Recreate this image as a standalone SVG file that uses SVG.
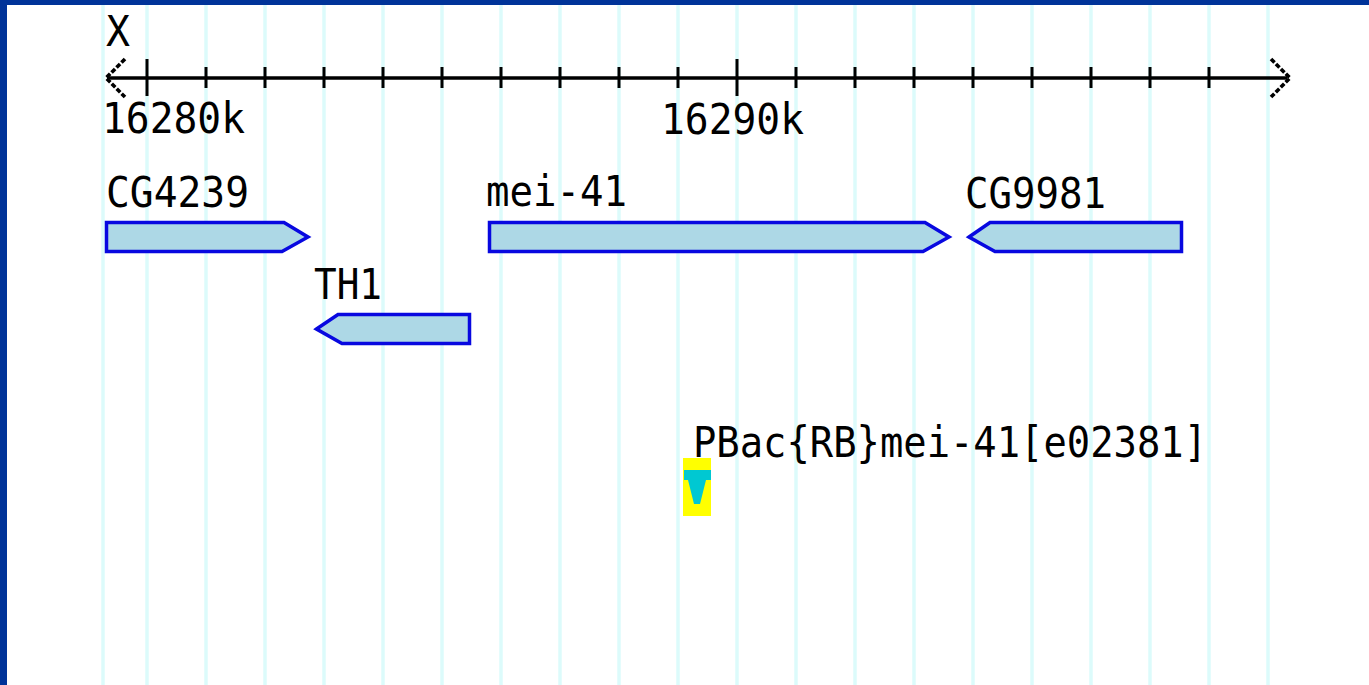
<svg xmlns="http://www.w3.org/2000/svg" width="1369" height="685" viewBox="0 0 1369 685">
  <style>
    .grid { stroke: #dcfbfb; stroke-width: 3.5; }
    .axis { stroke: #000; stroke-width: 3.5; fill: none; }
    .tick { stroke: #000; stroke-width: 3; }
    .chev { stroke: #000; stroke-width: 3.6; fill: none; stroke-dasharray: 5 2; stroke-linecap: butt; stroke-linejoin: miter; }
    .gene { fill: #add8e6; stroke: #0808e0; stroke-width: 3.5; stroke-linejoin: miter; }
    .lbl { font-family: "DejaVu Sans Mono", "Liberation Mono", monospace; font-size: 42px; fill: #000; }
  </style>
  <rect x="0" y="0" width="1369" height="685" fill="#fff"/>
  <g id="grid">
    <line class="grid" x1="103" y1="5" x2="103" y2="685"/>
    <line class="grid" x1="147" y1="5" x2="147" y2="685"/>
    <line class="grid" x1="206" y1="5" x2="206" y2="685"/>
    <line class="grid" x1="265" y1="5" x2="265" y2="685"/>
    <line class="grid" x1="324" y1="5" x2="324" y2="685"/>
    <line class="grid" x1="383" y1="5" x2="383" y2="685"/>
    <line class="grid" x1="442" y1="5" x2="442" y2="685"/>
    <line class="grid" x1="501" y1="5" x2="501" y2="685"/>
    <line class="grid" x1="560" y1="5" x2="560" y2="685"/>
    <line class="grid" x1="619" y1="5" x2="619" y2="685"/>
    <line class="grid" x1="678" y1="5" x2="678" y2="685"/>
    <line class="grid" x1="737" y1="5" x2="737" y2="685"/>
    <line class="grid" x1="796" y1="5" x2="796" y2="685"/>
    <line class="grid" x1="855" y1="5" x2="855" y2="685"/>
    <line class="grid" x1="914" y1="5" x2="914" y2="685"/>
    <line class="grid" x1="973" y1="5" x2="973" y2="685"/>
    <line class="grid" x1="1032" y1="5" x2="1032" y2="685"/>
    <line class="grid" x1="1091" y1="5" x2="1091" y2="685"/>
    <line class="grid" x1="1150" y1="5" x2="1150" y2="685"/>
    <line class="grid" x1="1209" y1="5" x2="1209" y2="685"/>
    <line class="grid" x1="1268" y1="5" x2="1268" y2="685"/>
  </g>
  <rect x="0" y="0" width="1369" height="5" fill="#003399"/>
  <rect x="0" y="0" width="7" height="685" fill="#003399"/>
  <g id="axis">
    <text class="lbl" x="106" y="46" textLength="24" lengthAdjust="spacingAndGlyphs">X</text>
    <line class="axis" x1="107" y1="78" x2="1287" y2="78"/>
    <polyline class="chev" points="125,59 106,78 125,97"/>
    <polyline class="chev" points="1271,59 1290,78 1271,97"/>
    <line class="tick" x1="147" y1="59" x2="147" y2="96"/>
    <line class="tick" x1="737" y1="59" x2="737" y2="96"/>
    <line class="tick" x1="206" y1="67" x2="206" y2="88"/>
    <line class="tick" x1="265" y1="67" x2="265" y2="88"/>
    <line class="tick" x1="324" y1="67" x2="324" y2="88"/>
    <line class="tick" x1="383" y1="67" x2="383" y2="88"/>
    <line class="tick" x1="442" y1="67" x2="442" y2="88"/>
    <line class="tick" x1="501" y1="67" x2="501" y2="88"/>
    <line class="tick" x1="560" y1="67" x2="560" y2="88"/>
    <line class="tick" x1="619" y1="67" x2="619" y2="88"/>
    <line class="tick" x1="678" y1="67" x2="678" y2="88"/>
    <line class="tick" x1="796" y1="67" x2="796" y2="88"/>
    <line class="tick" x1="855" y1="67" x2="855" y2="88"/>
    <line class="tick" x1="914" y1="67" x2="914" y2="88"/>
    <line class="tick" x1="973" y1="67" x2="973" y2="88"/>
    <line class="tick" x1="1032" y1="67" x2="1032" y2="88"/>
    <line class="tick" x1="1091" y1="67" x2="1091" y2="88"/>
    <line class="tick" x1="1150" y1="67" x2="1150" y2="88"/>
    <line class="tick" x1="1209" y1="67" x2="1209" y2="88"/>
    <text class="lbl" x="102" y="133" textLength="143" lengthAdjust="spacingAndGlyphs">16280k</text>
    <text class="lbl" x="661" y="134" textLength="143" lengthAdjust="spacingAndGlyphs">16290k</text>
  </g>
  <g id="connectors"></g>
  <g id="CG4239">
    <text class="lbl" x="106" y="207" textLength="143" lengthAdjust="spacingAndGlyphs">CG4239</text>
    <path class="gene" d="M106.5,222.5 H284 L308,237 L282,251.5 H106.5 Z"/>
  </g>
  <g id="mei-41">
    <text class="lbl" x="486" y="206" textLength="141" lengthAdjust="spacingAndGlyphs">mei-41</text>
    <path class="gene" d="M489.5,222.5 H925 L949,237 L923,251.5 H489.5 Z"/>
  </g>
  <g id="CG9981">
    <text class="lbl" x="965" y="208" textLength="141" lengthAdjust="spacingAndGlyphs">CG9981</text>
    <path class="gene" d="M969,237 L990,222.5 H1181.5 V251.5 H995 Z"/>
  </g>
  <g id="TH1">
    <text class="lbl" x="314" y="299" textLength="68" lengthAdjust="spacingAndGlyphs">TH1</text>
    <path class="gene" d="M316.5,329 L338,314.5 H469.5 V343.5 H342 Z"/>
  </g>
  <g id="PBac">
    <text class="lbl" x="693" y="457" textLength="514" lengthAdjust="spacingAndGlyphs">PBac{RB}mei-41[e02381]</text>
    <rect x="683" y="458" width="28" height="58" fill="#ffff00"/>
    <polygon points="684,470 711,470 711,480 706,480 700,504 694,504 688,480 684,480" fill="#00c8d2"/>
  </g>
</svg>
